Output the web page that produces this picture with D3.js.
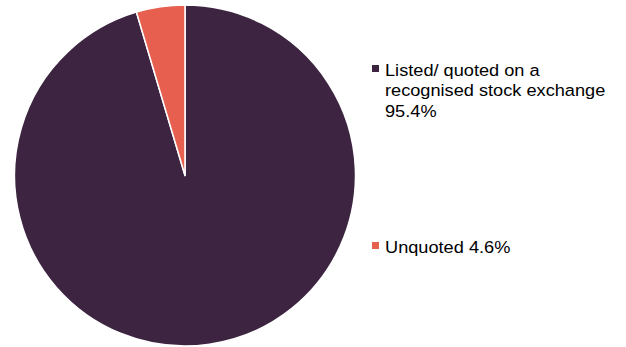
<!DOCTYPE html>
<html><head><meta charset="utf-8">
<script src="https://cdn.jsdelivr.net/npm/d3@7"></script>
<style>body{margin:0;background:#fff}svg{display:block}</style>
</head><body>
<script>
const categories = ["Listed/ quoted on a recognised stock exchange", "Unquoted"];
const values = [95.4, 4.6];
const labels = [["Listed/ quoted on a", "recognised stock exchange", "95.4%"], ["Unquoted 4.6%"]];
const colors = ["#3d2441", "#e65f4f"];

const W = 626, H = 347;
const svg = d3.select("body").append("svg").attr("width", W).attr("height", H);
const cx = 185, cy = 175.5, r = 170.5;
const pie = d3.pie().sort(null).value(d => d);
const arc = d3.arc().innerRadius(0).outerRadius(r);
const g = svg.append("g").attr("transform", `translate(${cx},${cy})`);
g.selectAll("path").data(pie(values)).join("path")
  .attr("d", arc).attr("fill", (d, i) => colors[i])
  .attr("stroke", "#fff").attr("stroke-width", 1.5).attr("stroke-linejoin", "round");

const legendY = [75.5, 252.5];
const font = "Liberation Sans, Arial, sans-serif";
const lg = svg.append("g");
categories.forEach((c, i) => {
  lg.append("rect").attr("x", 372).attr("y", legendY[i] - 10.5).attr("width", 7).attr("height", 7).attr("fill", colors[i]);
  const t = lg.append("text")
    .attr("transform", `translate(385,${legendY[i]}) scale(1.07,1)`)
    .attr("font-family", font).attr("font-size", 17).attr("fill", "#000");
  labels[i].forEach((l, j) => t.append("tspan").attr("x", 0).attr("y", j * 20.8).text(l));
});
</script>
</body></html>
